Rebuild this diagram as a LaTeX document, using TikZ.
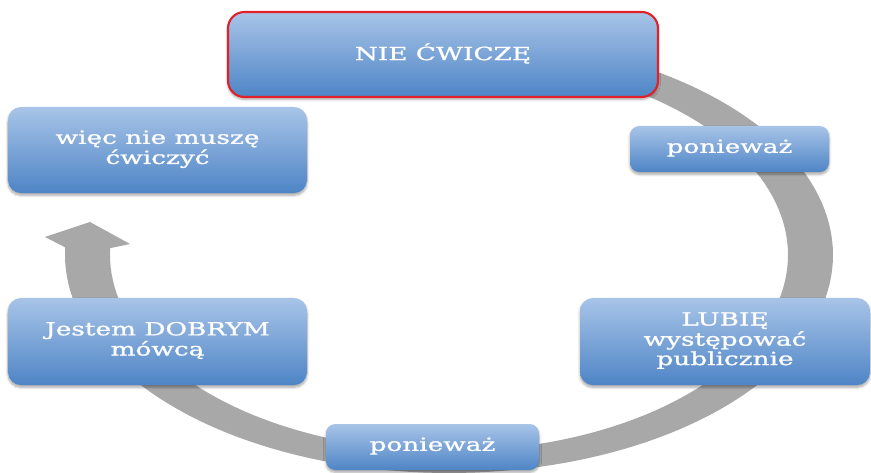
\documentclass[tikz,border=0pt]{standalone}
\usepackage{fontspec}
\setmainfont{DejaVu Serif}
\newfontfamily\boxfont{DejaVu Serif}[FakeBold=0.9]
\usepackage{graphicx}
\usetikzlibrary{shadows,shadows.blur}

\definecolor{boxtop}{RGB}{168,196,232}
\definecolor{boxbot}{RGB}{78,133,198}
\definecolor{ringgray}{RGB}{168,168,168}
\definecolor{alertred}{RGB}{226,32,40}

% white, widened text block for the boxes
\newcommand{\boxtext}[1]{\scalebox{1.45}[1]{\begin{tabular}{@{}c@{}}#1\end{tabular}}}

\tikzset{
  cyclebox/.style={
    rectangle, rounded corners=11pt, inner sep=0pt,
    top color=boxtop, bottom color=boxbot, draw=none,
    text=white, font=\boxfont\fontsize{15.5}{16}\selectfont,
    blur shadow={shadow xshift=0pt, shadow yshift=-2pt, shadow blur steps=6, shadow opacity=35}
  },
  smallbox/.style={cyclebox, rounded corners=8pt},
  redframe/.style={draw=alertred, line width=1.8pt}
}

\begin{document}
\begin{tikzpicture}[x=0.03cm, y=0.03cm]
  \useasboundingbox (0,0) rectangle (871,472);

  % gray cycle arrow: elliptic band running clockwise from the top to the left side
  \coordinate (ringc) at (449,217);
  \coordinate (headL) at (45,235);
  \coordinate (headT) at (90,250);
  \coordinate (headR) at (130,228);
  \fill[ringgray]
    plot[domain=90:-182, samples=140] ({449+384*cos(\x)},{217+218*sin(\x)})
    -- (headL) -- (headT) -- (headR)
    -- plot[domain=-182:90, samples=140] ({449+339*cos(\x)},{217+196*sin(\x)})
    -- cycle;

  % boxes
  \node[cyclebox, redframe, rounded corners=14pt, minimum width=12.9cm, minimum height=2.55cm]
    (niecwicze) at (443,417.5) {\boxtext{NIE ĆWICZĘ}};
  \node[smallbox, minimum width=5.97cm, minimum height=1.38cm]
    (poniewaz1) at (729.5,323) {\boxtext{ponieważ}};
  \node[cyclebox, minimum width=8.7cm, minimum height=2.61cm]
    (lubie) at (725,130.5) {\boxtext{LUBIĘ\\występować\\publicznie}};
  \node[smallbox, minimum width=6.39cm, minimum height=1.38cm]
    (poniewaz2) at (432.5,25) {\boxtext{ponieważ}};
  \node[cyclebox, minimum width=8.97cm, minimum height=2.61cm]
    (jestem) at (157.5,130.5) {\boxtext{Jestem DOBRYM\\mówcą}};
  \node[cyclebox, minimum width=8.97cm, minimum height=2.58cm]
    (wiec) at (157.5,322) {\boxtext{więc nie muszę\\ćwiczyć}};
\end{tikzpicture}
\end{document}
